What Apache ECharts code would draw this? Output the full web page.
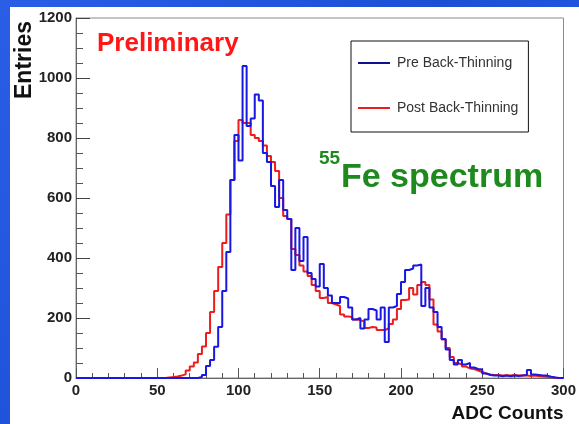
<!DOCTYPE html>
<html>
<head>
<meta charset="utf-8">
<script src="https://cdn.jsdelivr.net/npm/echarts@6/dist/echarts.min.js"></script>
<style>
html,body{margin:0;padding:0;background:#1f55dc;}
#chart{width:579px;height:424px;}
</style>
</head>
<body>
<div id="chart"></div>
<script>
// Histogram binning (ADC counts)
var binWidth = 2.5;
var xMin = 0, xMax = 300;
var yTicks = [0, 200, 400, 600, 800, 1000, 1200];
var xTicks = [0, 50, 100, 150, 200, 250, 300];
var seriesNames = ['Pre Back-Thinning', 'Post Back-Thinning'];

// Pre Back-Thinning (blue), 120 bins of width 2.5 from 0 to 300
var preCounts = [
  0,0,0,0,0,0,0,0,0,0, 0,0,0,0,0,0,0,0,0,0, 0,0,0,0,0,0,0,0,0,0,
  3,10,40,60,104,170,290,420,660,810,
  725,1040,840,865,945,925,750,720,640,570,
  660,560,530,360,500,390,470,350,330,305,
  380,300,275,250,250,270,265,235,195,200,
  165,195,230,225,195,235,120,235,240,280,
  320,360,365,375,378,240,300,235,220,170,
  130,95,60,45,60,45,50,35,30,28,
  15,10,8,8,6,8,6,8,7,8,
  10,27,12,10,8,8,4,2,0,0
];

// Post Back-Thinning (red)
var postCounts = [
  0,0,0,0,0,0,0,0,0,0, 0,0,0,0,0,0,0,0,0,0, 0,0,2,3,5,8,12,25,38,52,
  80,105,150,220,290,370,450,545,660,790,
  860,850,850,810,800,790,775,740,720,690,
  600,540,530,430,410,375,355,340,310,290,
  267,270,250,245,240,212,205,203,195,193,
  188,167,170,168,160,160,165,180,195,230,
  260,262,300,278,310,320,310,262,178,155,
  128,100,70,50,45,38,32,30,25,20,
  15,12,10,10,8,9,8,10,8,9,
  8,7,8,6,5,4,3,1,0,0
];

function toSteps(counts) {
  var pts = [];
  for (var i = 0; i < counts.length; i++) {
    pts.push([xMin + i * binWidth, counts[i]]);
  }
  pts.push([xMin + counts.length * binWidth, counts[counts.length - 1]]);
  return pts;
}

var FONT = 'Liberation Sans, Arial, Helvetica, sans-serif';
var chart = echarts.init(document.getElementById('chart'), null, {renderer: 'canvas'});

var option = {
  animation: false,
  backgroundColor: {
    type: 'linear', x: 0, y: 0, x2: 1, y2: 1,
    colorStops: [{offset: 0, color: '#2a5ee6'}, {offset: 0.5, color: '#1b4fd6'}, {offset: 1, color: '#2a62ea'}]
  },
  graphic: [
    {type: 'rect', left: 10, top: 7, z: -10, shape: {width: 569, height: 417}, style: {fill: '#ffffff'}, silent: true},
    {type: 'text', x: 25, y: 60, rotation: Math.PI / 2, z: 10,
      style: {text: 'Entries', fill: '#111', font: 'bold 23px ' + FONT, textAlign: 'center', textVerticalAlign: 'middle'}},
    {type: 'text', x: 97, y: 44, z: 10,
      style: {text: 'Preliminary', fill: '#ff1616', font: 'bold 26px ' + FONT, textAlign: 'left', textVerticalAlign: 'middle'}},
    {type: 'text', x: 319, y: 159, z: 10,
      style: {text: '55', fill: '#1e8a1e', font: 'bold 19px ' + FONT, textAlign: 'left', textVerticalAlign: 'middle'}},
    {type: 'text', x: 341, y: 178, z: 10,
      style: {text: 'Fe spectrum', fill: '#1e8a1e', font: 'bold 34px ' + FONT, textAlign: 'left', textVerticalAlign: 'middle'}}
  ],
  legend: {
    data: seriesNames,
    orient: 'vertical',
    left: 351,
    top: 41,
    padding: [15, 10, 17, 7],
    itemGap: 31,
    itemWidth: 32,
    itemHeight: 2,
    icon: 'rect',
    backgroundColor: '#ffffff',
    borderColor: '#111111',
    borderWidth: 1,
    textStyle: {fontFamily: FONT, fontSize: 14, color: '#333', padding: [0, 0, 0, 2]}
  },
  grid: {left: 76, right: 12, top: 18, bottom: 46, show: true, borderColor: '#8a8a8a', borderWidth: 1, backgroundColor: 'transparent'},
  xAxis: {
    type: 'value', min: xMin, max: xMax, interval: 50,
    name: 'ADC Counts',
    nameLocation: 'end',
    nameGap: 0,
    nameTextStyle: {fontFamily: FONT, fontWeight: 'bold', fontSize: 19, color: '#111', align: 'right', verticalAlign: 'top', padding: [26, 0, 0, 0]},
    axisLine: {onZero: false, lineStyle: {color: '#666', width: 1}},
    axisTick: {inside: true, length: 10, lineStyle: {color: '#555'}},
    minorTick: {show: true, splitNumber: 5, length: 5, lineStyle: {color: '#555'}},
    splitLine: {show: false},
    axisLabel: {fontFamily: FONT, fontWeight: 'bold', fontSize: 15, color: '#222', margin: 5,
      formatter: function (v) { return xTicks.indexOf(v) >= 0 ? String(v) : ''; }}
  },
  yAxis: {
    type: 'value', min: 0, max: 1200, interval: 200,
    axisLine: {show: true, lineStyle: {color: '#666', width: 1}},
    axisTick: {show: true, inside: true, length: 14, lineStyle: {color: '#444'}},
    minorTick: {show: true, splitNumber: 4, length: 7, lineStyle: {color: '#555'}},
    splitLine: {show: false},
    axisLabel: {fontFamily: FONT, fontWeight: 'bold', fontSize: 15, color: '#222', margin: 4,
      formatter: function (v) { return yTicks.indexOf(v) >= 0 ? String(v) : ''; }}
  },
  series: [
    {name: seriesNames[1], type: 'line', step: 'end', symbol: 'none', data: toSteps(postCounts),
      lineStyle: {color: '#ee1c1c', width: 2}, itemStyle: {color: '#ee1c1c'}, z: 2},
    {name: seriesNames[0], type: 'line', step: 'end', symbol: 'none', data: toSteps(preCounts),
      lineStyle: {color: '#1818e0', width: 2}, itemStyle: {color: '#101090'}, z: 3}
  ]
};
chart.setOption(option);
</script>
</body>
</html>
